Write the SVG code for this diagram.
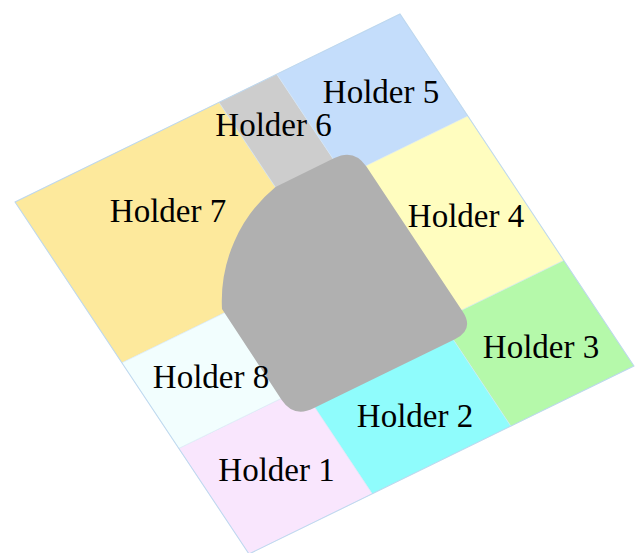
<svg xmlns="http://www.w3.org/2000/svg" width="635" height="553" viewBox="0 0 635 553">
<style>
.reg{stroke:#d6e6f4;stroke-width:0.8;stroke-opacity:0.7;vector-effect:non-scaling-stroke}
.lbl{font-family:"Liberation Serif","Times New Roman",serif;font-size:33px;fill:#000;text-anchor:middle}
</style>
<rect width="635" height="553" fill="#ffffff"/>
<g transform="matrix(0.385 -0.188 0.234 0.352 15 202)">
<g id="holder7"><rect class="reg" x="0" y="0" width="530" height="457" fill="#FDE99C"/></g>
<g id="holder6"><rect class="reg" x="530" y="0" width="150" height="290" fill="#CDCDCD"/></g>
<g id="holder5"><rect class="reg" x="680" y="0" width="320" height="290" fill="#C4DDFB"/></g>
<g id="holder4"><rect class="reg" x="530" y="290" width="470" height="410" fill="#FFFDBF"/></g>
<g id="holder3"><rect class="reg" x="680" y="700" width="320" height="300" fill="#B5F9AA"/></g>
<g id="holder2"><rect class="reg" x="320" y="700" width="360" height="300" fill="#8FFCFC"/></g>
<g id="holder1"><rect class="reg" x="0" y="700" width="320" height="300" fill="#F9E6FD"/></g>
<g id="holder8"><rect class="reg" x="0" y="457" width="530" height="243" fill="#F2FEFE"/></g>
<rect x="0" y="0" width="1000" height="1000" fill="none" stroke="#b4d2ec" stroke-width="1" stroke-opacity="0.8" vector-effect="non-scaling-stroke"/>
</g>
<g id="center">
<path d="M275.5,187 L334.4,158 Q354.2,148.3 366.4,166.6 L462.5,311.3 Q474.7,329.6 454.9,339.3 L313.5,408.3 Q293.7,418 281.5,399.7 L222,309 A148,148 0 0 1 275.5,187 Z" fill="#B0B0B0"/>
</g>
<g id="labels">
<text class="lbl" x="381" y="103">Holder 5</text>
<text class="lbl" x="273.5" y="136">Holder 6</text>
<text class="lbl" x="168" y="222">Holder 7</text>
<text class="lbl" x="466" y="227">Holder 4</text>
<text class="lbl" x="541" y="358">Holder 3</text>
<text class="lbl" x="211" y="388">Holder 8</text>
<text class="lbl" x="415" y="427">Holder 2</text>
<text class="lbl" x="276.5" y="481">Holder 1</text>
</g>
<g id="connectors"></g>
</svg>
